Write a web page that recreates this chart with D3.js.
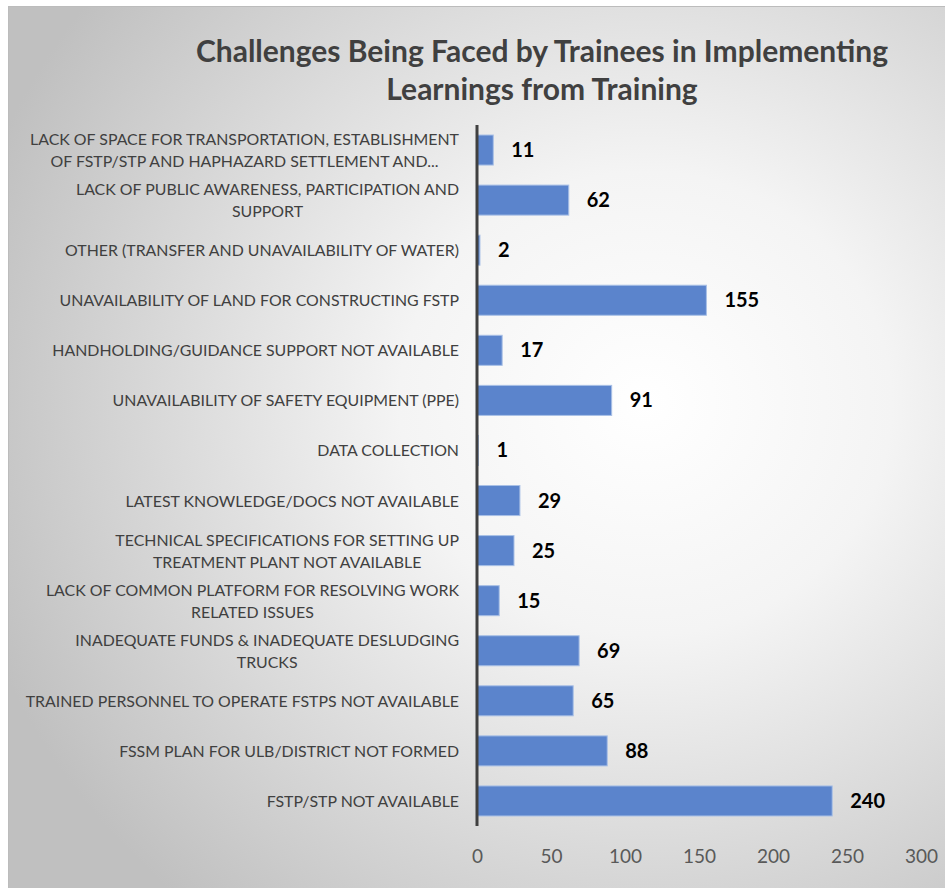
<!DOCTYPE html>
<html>
<head>
<meta charset="utf-8">
<script src="https://cdn.jsdelivr.net/npm/d3@7"></script>
<style>
  body { margin: 0; background: #fff; }
  svg { display: block; }
  .cat { font-family: "Lato", "Open Sans", sans-serif; font-size: 15.9px; fill: #404040; }
  .val { font-family: "Lato", "Open Sans", sans-serif; font-size: 20px; font-weight: bold; fill: #000; }
  .tick text { font-family: "Lato", "Open Sans", sans-serif; font-size: 19px; fill: #595959; }
  .title { font-family: "Lato", "Open Sans", sans-serif; font-size: 30px; font-weight: bold; fill: #404040; }
</style>
</head>
<body>
<div id="chart"></div>
<script>
// categories top to bottom, each one split into its display lines
var categories = [
  ["LACK OF SPACE FOR TRANSPORTATION, ESTABLISHMENT", "OF FSTP/STP AND HAPHAZARD SETTLEMENT AND..."],
  ["LACK OF PUBLIC AWARENESS, PARTICIPATION AND", "SUPPORT"],
  ["OTHER (TRANSFER AND UNAVAILABILITY OF WATER)"],
  ["UNAVAILABILITY OF LAND FOR CONSTRUCTING FSTP"],
  ["HANDHOLDING/GUIDANCE SUPPORT NOT AVAILABLE"],
  ["UNAVAILABILITY OF SAFETY EQUIPMENT (PPE)"],
  ["DATA COLLECTION"],
  ["LATEST KNOWLEDGE/DOCS NOT AVAILABLE"],
  ["TECHNICAL SPECIFICATIONS FOR SETTING UP", "TREATMENT PLANT NOT AVAILABLE"],
  ["LACK OF COMMON PLATFORM FOR RESOLVING WORK", "RELATED ISSUES"],
  ["INADEQUATE FUNDS & INADEQUATE DESLUDGING", "TRUCKS"],
  ["TRAINED PERSONNEL TO OPERATE FSTPS NOT AVAILABLE"],
  ["FSSM PLAN FOR ULB/DISTRICT NOT FORMED"],
  ["FSTP/STP NOT AVAILABLE"]
];
var counts = [11, 62, 2, 155, 17, 91, 1, 29, 25, 15, 69, 65, 88, 240];
var xTicks = [0, 50, 100, 150, 200, 250, 300];
var titleLines = ["Challenges Being Faced by Trainees in Implementing", "Learnings from Training"];

var width = 945, height = 888;
var margin = {top: 125, right: 24, bottom: 62, left: 477};
var labelRight = 459;

var svg = d3.select("#chart").append("svg")
    .attr("width", width)
    .attr("height", height);

// background panel with radial shading
var defs = svg.append("defs");
var grad = defs.append("radialGradient")
    .attr("id", "bg")
    .attr("cx", "68%").attr("cy", "45%").attr("r", "75%");
grad.append("stop").attr("offset", "0%").attr("stop-color", "#ffffff");
grad.append("stop").attr("offset", "35%").attr("stop-color", "#f4f4f4");
grad.append("stop").attr("offset", "100%").attr("stop-color", "#c0c0c0");

svg.append("rect")
    .attr("x", 8.5).attr("y", 6.5)
    .attr("width", width - 8).attr("height", height - 6)
    .attr("fill", "url(#bg)")
    .attr("stroke", "#bcbcbc");

// title
svg.append("text")
    .attr("class", "title")
    .attr("text-anchor", "middle")
    .selectAll("tspan")
    .data(titleLines)
    .enter().append("tspan")
    .attr("x", 542)
    .attr("y", function(d, i) { return 62 + i * 38; })
    .text(function(d) { return d; });

var x = d3.scaleLinear().domain([0, 300]).range([margin.left, 921]);
var y = d3.scaleBand()
    .domain(d3.range(categories.length))
    .range([margin.top, height - margin.bottom])
    .paddingInner(0.4)
    .paddingOuter(0.2);

// x axis (labels only)
var xAxis = svg.append("g")
    .attr("transform", "translate(0," + (height - margin.bottom) + ")")
    .call(d3.axisBottom(x).tickValues(xTicks).tickSize(0).tickPadding(24));
xAxis.select(".domain").remove();

// bars
svg.selectAll(".bar")
    .data(counts)
    .enter().append("rect")
    .attr("class", "bar")
    .attr("x", x(0))
    .attr("y", function(d, i) { return y(i); })
    .attr("width", function(d) { return x(d) - x(0); })
    .attr("height", y.bandwidth())
    .attr("fill", "#5b84cc")
    .attr("stroke", "#a9c0e6")
    .attr("stroke-width", 1);

// value labels
svg.selectAll(".val")
    .data(counts)
    .enter().append("text")
    .attr("class", "val")
    .attr("x", function(d) { return x(d) + 18; })
    .attr("y", function(d, i) { return y(i) + y.bandwidth() / 2 + 7; })
    .text(function(d) { return d; });

// category labels: block right-aligned to the axis, lines centred in it
var cat = svg.selectAll(".cat")
    .data(categories)
    .enter().append("text")
    .attr("class", "cat")
    .attr("text-anchor", "middle");
cat.selectAll("tspan")
    .data(function(d, i) { return d.map(function(line, j) { return {line: line, j: j, n: d.length, i: i}; }); })
    .enter().append("tspan")
    .attr("y", function(d) {
        var c = y(d.i) + y.bandwidth() / 2;
        return c + 6 + (d.j - (d.n - 1) / 2) * 22;
    })
    .text(function(d) { return d.line; });

cat.each(function() {
    var spans = d3.select(this).selectAll("tspan");
    var w = 0;
    spans.each(function() { w = Math.max(w, this.getComputedTextLength()); });
    spans.attr("x", labelRight - w / 2);
});

// vertical axis line
svg.append("line")
    .attr("x1", x(0)).attr("x2", x(0))
    .attr("y1", margin.top).attr("y2", height - margin.bottom)
    .attr("stroke", "#404040")
    .attr("stroke-width", 3);
</script>
</body>
</html>
